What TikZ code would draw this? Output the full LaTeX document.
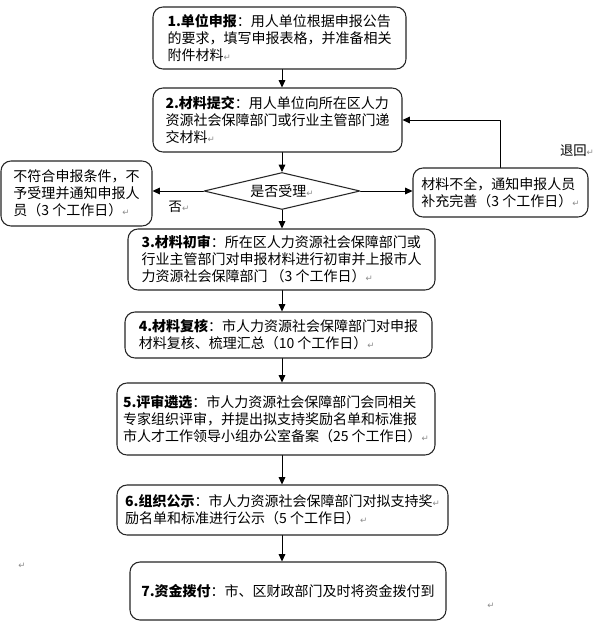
\documentclass[tikz,border=0pt]{standalone}
\usepackage{fontspec}
\setmainfont{Noto Sans CJK SC}
\newfontfamily\symfont{DejaVu Sans}
\usetikzlibrary{arrows.meta,shapes.geometric}

\newcommand{\retmark}{{\symfont\fontsize{6.5pt}{6.5pt}\selectfont\textcolor{black!45}{↵}}}

\begin{document}
\begin{tikzpicture}[
  x=0.75pt,
  y=-0.75pt,
  line cap=round,
  line join=round,
  >={Triangle[length=5.5pt,width=5pt]},
  font=\fontsize{10.5pt}{12.75pt}\selectfont,
  stepbox/.style={
    draw=black!85,
    rounded corners=7.5pt,
    line width=0.8pt,
    fill=white,
    align=left,
    inner sep=2pt
  },
  decide/.style={
    diamond,
    draw=black!85,
    line width=0.8pt,
    fill=white,
    inner sep=0pt,
    aspect=4.2
  },
  flow/.style={draw=black,line width=0.6pt,->},
  note/.style={font=\fontsize{10pt}{12pt}\selectfont,inner sep=1pt}
]

\useasboundingbox[fill=white] (0,0) rectangle (596,624);
\coordinate (axis) at (282,0);

% main column of steps
\node[stepbox,minimum width=189.75pt,minimum height=46.5pt] (b1) at (279.5,38)
  {\textbf{1.单位申报}：用人单位根据申报公告\\的要求，填写申报表格，并准备相关\\附件材料\retmark};
\node[stepbox,minimum width=186.75pt,minimum height=48pt] (b2) at (277.5,120)
  {\textbf{2.材料提交}：用人单位向所在区人力\\资源社会保障部门或行业主管部门递\\交材料\retmark};
\node[decide,minimum width=117pt,minimum height=27.75pt] (dia) at (282,191)
  {是否受理\retmark};
\node[stepbox,minimum width=230.25pt,minimum height=45.75pt] (b3) at (281.5,259.5)
  {\textbf{3.材料初审}：所在区人力资源社会保障部门或\\行业主管部门对申报材料进行初审并上报市人\\力资源社会保障部门 （3 个工作日）\retmark};
\node[stepbox,minimum width=230.25pt,minimum height=34.5pt] (b4) at (278.5,335)
  {\textbf{4.材料复核}：市人力资源社会保障部门对申报\\材料复核、梳理汇总（10 个工作日）\retmark};
\node[stepbox,minimum width=238.5pt,minimum height=54pt] (b5) at (276,419)
  {\textbf{5.评审遴选}：市人力资源社会保障部门会同相关\\专家组织评审，并提出拟支持奖励名单和标准报\\市人才工作领导小组办公室备案（25 个工作日）\retmark};
\node[stepbox,minimum width=248.25pt,minimum height=37.5pt] (b6) at (282.5,510)
  {\textbf{6.组织公示}：市人力资源社会保障部门对拟支持奖\retmark\\励名单和标准进行公示（5 个工作日）\retmark};
\node[stepbox,minimum width=237pt,minimum height=43.5pt] (b7) at (288,591)
  {\textbf{7.资金拨付}：市、区财政部门及时将资金拨付到};

% side branches
\node[stepbox,minimum width=113.25pt,minimum height=48.75pt] (rej) at (76.5,193.5)
  {不符合申报条件，不\\予受理并通知申报人\\员（3 个工作日）\retmark};
\node[stepbox,minimum width=131.25pt,minimum height=36.75pt] (sup) at (500.5,192.5)
  {材料不全，通知申报人员\\补充完善（3 个工作日）\retmark};

\node[note] (no) at (179,207) {否\retmark};
\node[note] (back) at (577,151) {退回\retmark};
\node[note] (m1) at (22,566) {\retmark};
\node[note] (m2) at (491,606) {\retmark};

% connectors
\draw[flow] (b1.south -| axis) -- (b2.north -| axis);
\draw[flow] (b2.south -| axis) -- (dia.north);
\draw[flow] (dia.south) -- (b3.north -| axis);
\draw[flow] (b3.south -| axis) -- (b4.north -| axis);
\draw[flow] (b4.south -| axis) -- (b5.north -| axis);
\draw[flow] (b5.south -| axis) -- (b6.north -| axis);
\draw[flow] (b6.south -| axis) -- (b7.north -| axis);
\draw[flow] (dia.west) -- (dia.west -| rej.east);
\draw[flow] (dia.east) -- (dia.east -| sup.west);
\draw[flow] (sup.north) |- (b2.east);

\end{tikzpicture}
\end{document}
